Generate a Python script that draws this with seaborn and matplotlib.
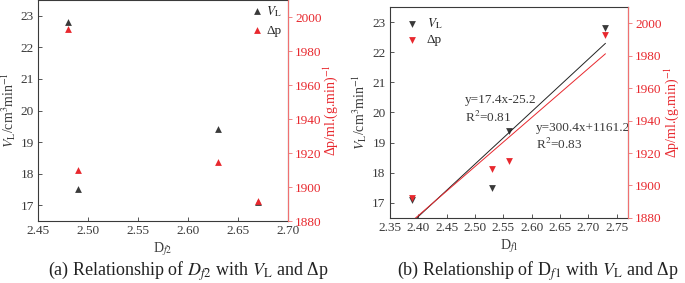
import numpy as np
import pandas as pd
import seaborn as sns
import matplotlib.pyplot as plt

# data
df2 = [2.48, 2.49, 2.63, 2.67]
vl_a = [22.8, 17.5, 19.4, 17.1]
dp_a = [1993, 1910, 1915, 1892]

df1 = [2.39, 2.53, 2.56, 2.73]
vl_b = [17.1, 17.5, 19.4, 22.8]
dp_b = [1892, 1910, 1915, 1993]

fit_vl = "y=17.4x-25.2\nR$^2$=0.81"
fit_dp = "y=300.4x+1161.2\nR$^2$=0.83"

sns.set_style("white")
plt.rcParams['font.family'] = ['Liberation Serif', 'DejaVu Serif']
plt.rcParams['mathtext.fontset'] = 'stix'
plt.rcParams['font.size'] = 9

dark = "#3a3a3a"
red = "#e8282e"
red_ax = "#f07070"

fig = plt.figure(figsize=(6.85, 2.83), dpi=100)
ax_a = fig.add_axes([0.0555, 0.219, 0.365, 0.781])
ax_b = fig.add_axes([0.569, 0.230, 0.348, 0.745])


def style(ax, ax2, xlabel):
    for s in ax.spines.values():
        s.set_color(dark)
        s.set_linewidth(0.8)
    ax2.spines['right'].set_color(red_ax)
    ax2.spines['right'].set_linewidth(0.8)
    for s in ['left', 'top', 'bottom']:
        ax2.spines[s].set_visible(False)
    ax.tick_params(axis='both', direction='in', length=3, width=0.6, colors=dark,
                   labelsize=9.5, pad=3, left=True, bottom=True)
    ax2.tick_params(axis='y', direction='out', length=3, width=0.6, colors=red,
                    labelsize=9.5, pad=2, right=True)
    ax2.tick_params(axis='y', color=red_ax)
    ax.set_ylim(16.5, 23.5)
    ax.set_yticks([17, 18, 19, 20, 21, 22, 23])
    ax2.set_ylim(1880, 2010)
    ax2.set_yticks([1880, 1900, 1920, 1940, 1960, 1980, 2000])
    ax.set_xlabel(xlabel, color=dark, fontsize=10, labelpad=2)
    ax.set_ylabel(r"$V_\mathrm{L}$/cm$^3$min$^{-1}$", color=dark, fontsize=10, labelpad=2)
    ax2.set_ylabel(r"Δp/ml.(g.min)$^{-1}$", color=red, fontsize=10, labelpad=0)
    ax2.grid(False)
    ax.grid(False)


# panel (a)
ax_a2 = ax_a.twinx()
sns.scatterplot(x=df2, y=vl_a, ax=ax_a, marker='^', s=24, color=dark,
                edgecolor=dark, linewidth=0, label=r"$V_\mathrm{L}$", legend=False)
sns.scatterplot(x=df2, y=dp_a, ax=ax_a2, marker='^', s=24, color=red,
                edgecolor=red, linewidth=0, label="Δp", legend=False)
ax_a.set_xlim(2.45, 2.70)
ax_a.set_xticks([2.45, 2.50, 2.55, 2.60, 2.65, 2.70])
ax_a.set_xticklabels(["%.2f" % v for v in ax_a.get_xticks()])
style(ax_a, ax_a2, r"D$_{f2}$")
h1, l1 = ax_a.get_legend_handles_labels()
h2, l2 = ax_a2.get_legend_handles_labels()
ax_a2.legend(h1 + h2, l1 + l2, loc='upper right', frameon=False, fontsize=9.5,
             handletextpad=0.2, handlelength=1.0, borderaxespad=0.05,
             labelspacing=0.45, bbox_to_anchor=(1.0, 1.01))

# panel (b)
ax_b2 = ax_b.twinx()
sns.regplot(x=df1, y=vl_b, ax=ax_b, scatter=False, ci=None, color="#222222",
            line_kws={'linewidth': 0.7})
sns.regplot(x=df1, y=dp_b, ax=ax_b2, scatter=False, ci=None, color=red,
            line_kws={'linewidth': 0.7})
sns.scatterplot(x=df1, y=vl_b, ax=ax_b, marker='v', s=24, color=dark,
                edgecolor=dark, linewidth=0, label=r"$V_\mathrm{L}$", legend=False)
sns.scatterplot(x=df1, y=dp_b, ax=ax_b2, marker='v', s=24, color=red,
                edgecolor=red, linewidth=0, label="Δp", legend=False)
ax_b.set_xlim(2.35, 2.77)
ax_b.set_xticks([2.35, 2.40, 2.45, 2.50, 2.55, 2.60, 2.65, 2.70, 2.75])
ax_b.set_xticklabels(["%.2f" % v for v in ax_b.get_xticks()])
style(ax_b, ax_b2, r"D$_{f1}$")
ax_b.text(2.482, 20.1, fit_vl, fontsize=9.5, color=dark, va='center', ha='left',
          linespacing=1.25)
ax_b.text(2.608, 19.2, fit_dp, fontsize=9.5, color=dark, va='center', ha='left',
          linespacing=1.25)
h1, l1 = ax_b.get_legend_handles_labels()
h2, l2 = ax_b2.get_legend_handles_labels()
ax_b2.legend(h1 + h2, l1 + l2, loc='upper left', frameon=False, fontsize=9.5,
             handletextpad=0.1, borderaxespad=0.3, labelspacing=0.2)

fig.text(0.275, 0.043, r"(a) Relationship of $D_{f2}$ with $V_\mathrm{L}$ and Δp",
         ha='center', va='center', fontsize=13, color="#222222")
fig.text(0.785, 0.043, r"(b) Relationship of D$_{f1}$ with $V_\mathrm{L}$ and Δp",
         ha='center', va='center', fontsize=13, color="#222222")

fig.savefig("out.png", dpi=100)
